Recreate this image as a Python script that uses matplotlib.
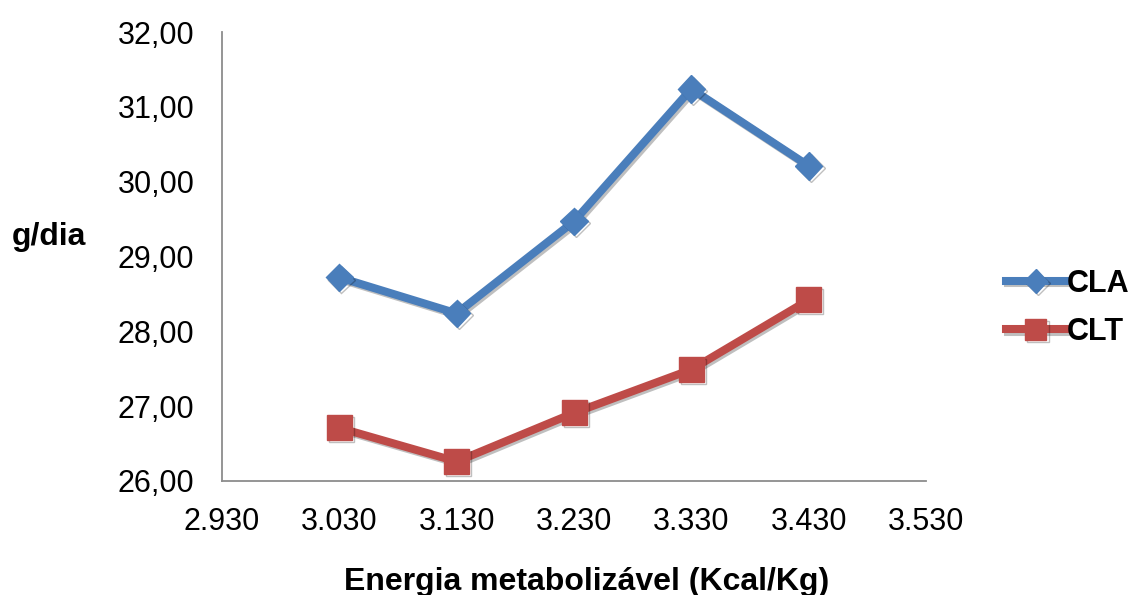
import matplotlib.pyplot as plt
import matplotlib.patheffects as pe
from matplotlib.ticker import FuncFormatter

plt.rcParams['font.family'] = ['Liberation Sans', 'DejaVu Sans']

# Energia metabolizável (Kcal/Kg) e ganho em g/dia
energia = [3030, 3130, 3230, 3330, 3430]
cla = [28.72, 28.24, 29.47, 31.24, 30.21]
clt = [26.71, 26.26, 26.91, 27.49, 28.42]

x_ticks = [2930, 3030, 3130, 3230, 3330, 3430, 3530]
y_ticks = [26, 27, 28, 29, 30, 31, 32]

fig = plt.figure(figsize=(11.35, 5.95), dpi=100)
ax = fig.add_axes([0.1956, 0.1916, 0.8159 - 0.1956, 0.9462 - 0.1916])

sombra = [pe.SimpleLineShadow(offset=(1.5, -1.5), alpha=0.25), pe.Normal()]
ax.plot(energia, cla, color='#4A7EBB', lw=5.8, marker='D', ms=14,
        label='CLA', path_effects=sombra, solid_joinstyle='miter')
ax.plot(energia, clt, color='#BE4B48', lw=5.8, marker='s', ms=18,
        label='CLT', path_effects=sombra, solid_joinstyle='miter')

ax.set_xlim(2930, 3530)
ax.set_ylim(26, 32)
ax.set_xticks(x_ticks)
ax.set_yticks(y_ticks)
ax.xaxis.set_major_formatter(FuncFormatter(lambda v, p: f'{v/1000:.3f}'))
ax.yaxis.set_major_formatter(FuncFormatter(lambda v, p: f'{v:.2f}'.replace('.', ',')))
ax.tick_params(length=0, labelsize=22)
ax.tick_params(axis='y', pad=20)
ax.tick_params(axis='x', pad=19)

for s in ['top', 'right']:
    ax.spines[s].set_visible(False)
for s in ['left', 'bottom']:
    ax.spines[s].set_color('#8C8C8C')
    ax.spines[s].set_linewidth(1.3)

fig.text(49 / 1135, 1 - 237 / 595, 'g/dia', fontsize=23, fontweight='bold',
         ha='center', va='center')
fig.text(587 / 1135, 1 - 582 / 595, 'Energia metabolizável (Kcal/Kg)',
         fontsize=23, fontweight='bold', ha='center', va='center')

# legenda à direita, com marcadores menores que os da curva
leg = fig.legend(loc='center left', bbox_to_anchor=(1006 / 1135, 1 - 308 / 595),
                 frameon=False, prop={'size': 22, 'weight': 'bold'},
                 handlelength=1.95, handletextpad=0.05, labelspacing=0.6,
                 borderaxespad=0, borderpad=0, markerscale=0.85)

fig.savefig('out.png', dpi=100)
